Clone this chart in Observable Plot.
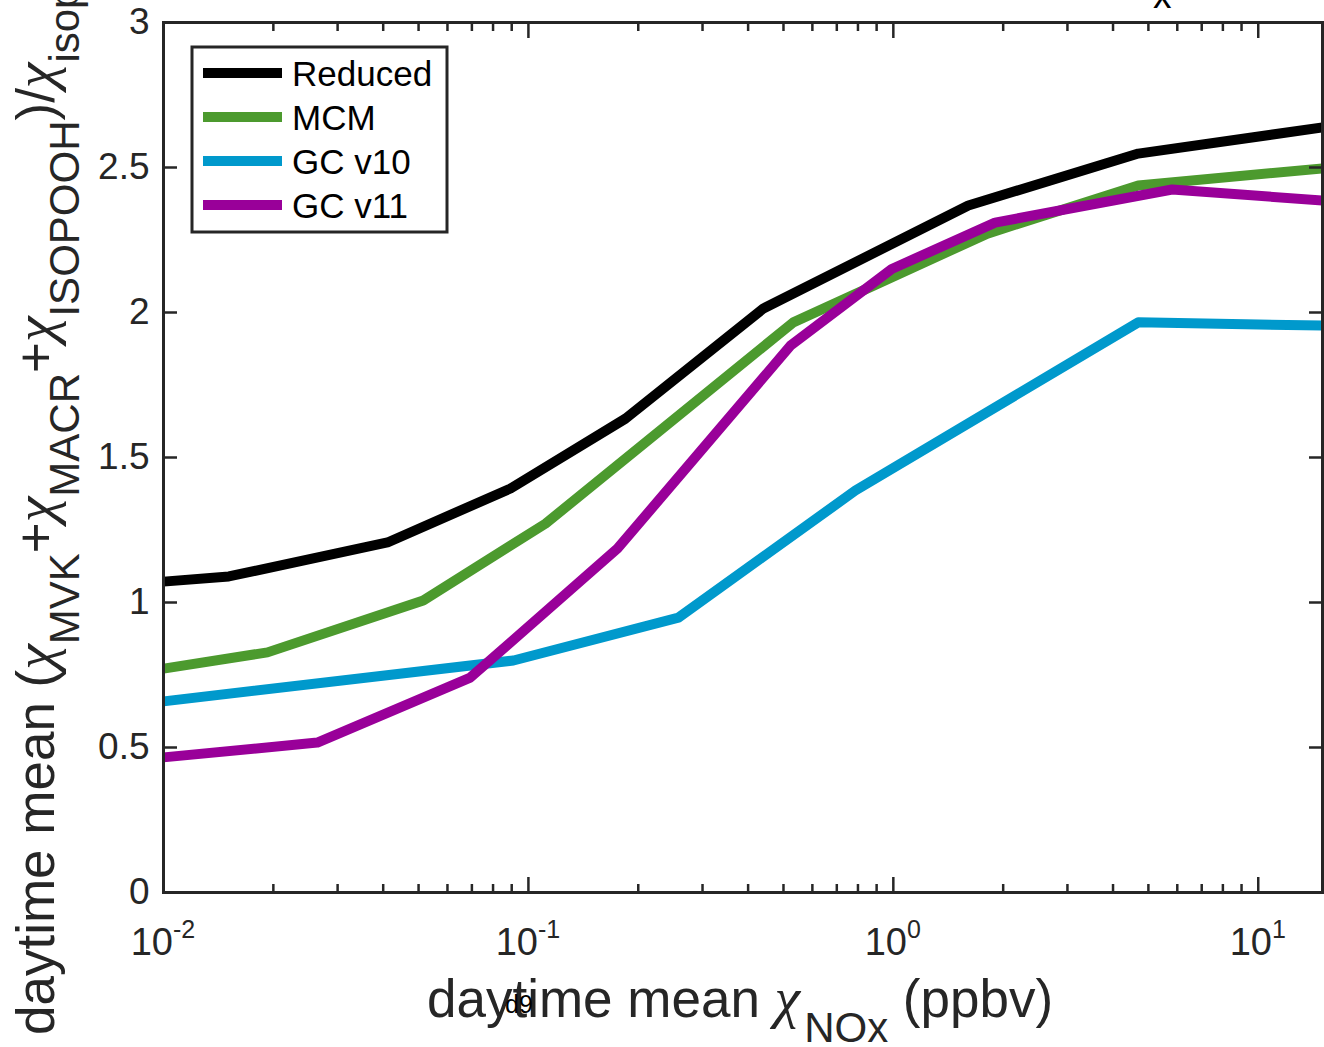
<!DOCTYPE html>
<html>
<head>
<meta charset="utf-8">
<script src="https://cdn.jsdelivr.net/npm/d3@7"></script>
<script src="https://cdn.jsdelivr.net/npm/@observablehq/plot@0.6"></script>
<style>
  body { margin: 0; background: #fff; }
  #chart { width: 1324px; height: 1047px; overflow: hidden; }
</style>
</head>
<body>
<div id="chart"></div>
<script>
// ---------------- data ----------------
const seriesNames = ["Reduced", "MCM", "GC v10", "GC v11"];
const seriesColors = ["#000000", "#4c9a2e", "#0099cc", "#990099"];

const xReduced = [0.01, 0.0151, 0.0411, 0.0893, 0.1845, 0.4406, 1.605, 4.69, 15];
const yReduced = [1.072, 1.09, 1.207, 1.393, 1.634, 2.014, 2.369, 2.548, 2.638];

const xMCM = [0.01, 0.01927, 0.0515, 0.1114, 0.532, 1.81, 4.69, 15];
const yMCM = [0.772, 0.828, 1.007, 1.272, 1.966, 2.272, 2.438, 2.497];

const xGC10 = [0.01, 0.091, 0.2577, 0.787, 4.69, 15];
const yGC10 = [0.659, 0.80, 0.948, 1.386, 1.966, 1.955];

const xGC11 = [0.01, 0.0264, 0.0693, 0.1754, 0.523, 0.99, 1.90, 5.81, 15];
const yGC11 = [0.466, 0.517, 0.741, 1.186, 1.886, 2.15, 2.31, 2.424, 2.386];

const yTicks = [0, 0.5, 1, 1.5, 2, 2.5, 3];
const xMajorTicks = [0.01, 0.1, 1, 10];
const xTickExponents = ["-2", "-1", "0", "1"];
const xMinorTicks = [0.02,0.03,0.04,0.05,0.06,0.07,0.08,0.09,
                     0.2,0.3,0.4,0.5,0.6,0.7,0.8,0.9,
                     2,3,4,5,6,7,8,9];

// ---------------- build table ----------------
const seriesX = [xReduced, xMCM, xGC10, xGC11];
const seriesY = [yReduced, yMCM, yGC10, yGC11];
const rows = [];
seriesNames.forEach((name, i) => {
  seriesX[i].forEach((x, j) => rows.push({series: name, x, y: seriesY[i][j]}));
});

const axisColor = "#262626";
const W = 1324, H = 1047, mL = 163, mR = 2, mT = 22, mB = 155;
const sans = "'Liberation Sans', Arial, Helvetica, sans-serif";
const serif = "'Liberation Serif', 'Times New Roman', serif";

const noText = () => "";
const plot = Plot.plot({
  width: W, height: H,
  marginLeft: mL, marginRight: mR, marginTop: mT, marginBottom: mB,
  style: {background: "#fff", fontFamily: sans, overflow: "hidden"},
  x: {type: "log", domain: [0.01, 15], label: null},
  y: {domain: [0, 3], label: null},
  color: {domain: seriesNames, range: seriesColors},
  marks: [
    Plot.line(rows, {x: "x", y: "y", z: "series", stroke: "series",
      strokeWidth: 10, strokeLinejoin: "round", strokeLinecap: "butt", clip: true}),
    Plot.axisX({anchor: "bottom", ticks: xMajorTicks, tickSize: -15, tickFormat: noText, stroke: axisColor, strokeWidth: 2.5, label: null}),
    Plot.axisX({anchor: "bottom", ticks: xMinorTicks, tickSize: -8, tickFormat: noText, stroke: axisColor, strokeWidth: 2.5, label: null}),
    Plot.axisX({anchor: "top", ticks: xMajorTicks, tickSize: -15, tickFormat: noText, stroke: axisColor, strokeWidth: 2.5, label: null}),
    Plot.axisX({anchor: "top", ticks: xMinorTicks, tickSize: -8, tickFormat: noText, stroke: axisColor, strokeWidth: 2.5, label: null}),
    Plot.axisY({anchor: "left", ticks: yTicks, tickSize: -14, tickFormat: noText, stroke: axisColor, strokeWidth: 2.5, label: null}),
    Plot.axisY({anchor: "right", ticks: yTicks, tickSize: -14, tickFormat: noText, stroke: axisColor, strokeWidth: 2.5, label: null}),
    Plot.axisY({anchor: "left", ticks: yTicks, tickSize: 0, tickPadding: 14, fontSize: 37,
      tickFormat: d => String(d), fill: axisColor, stroke: "none", label: null}),
    Plot.frame({stroke: axisColor, strokeWidth: 3})
  ]
});

document.getElementById("chart").appendChild(plot);

// ---------------- extra text via scales ----------------
const svg = d3.select(plot);
const xs = plot.scale("x");
const bottom = H - mB;

// x tick labels with superscripts
const xl = svg.append("g").attr("font-family", sans).attr("fill", axisColor);
xMajorTicks.forEach((v, i) => {
  const t = xl.append("text")
    .attr("x", xs.apply(v)).attr("y", bottom + 63)
    .attr("text-anchor", "middle").attr("font-size", 38);
  t.append("tspan").text("10");
  t.append("tspan").attr("font-size", 25).attr("dy", -17).text(xTickExponents[i]);
});

// x axis label
const mainFs = 53, subFs = 42, chiFs = 58, sub = 25;
const xlab = svg.append("text").attr("x", 427).attr("y", bottom + 125)
  .attr("text-anchor", "start")
  .attr("font-family", sans).attr("font-size", mainFs).attr("fill", axisColor);
xlab.append("tspan").text("daytime mean ");
xlab.append("tspan").attr("font-family", serif).attr("font-style", "italic").attr("font-size", chiFs).text("χ");
xlab.append("tspan").attr("font-size", subFs).attr("dx", 4).attr("dy", sub).text("NOx");
xlab.append("tspan").attr("dy", -sub).text(" (ppbv)");

// stray small label
svg.append("text").attr("x", 505).attr("y", bottom + 121).attr("text-anchor", "start")
  .attr("font-family", sans).attr("font-size", 25).attr("fill", "#000").text("d9");

// clipped title fragment at top
svg.append("text").attr("x", 1153).attr("y", 8).attr("text-anchor", "start")
  .attr("font-family", sans).attr("font-size", 37).attr("fill", "#000").text("x");

// y axis label (rotated)
const ylab = svg.append("text").attr("transform", "translate(54,1035) rotate(-90)")
  .attr("text-anchor", "start")
  .attr("font-family", sans).attr("font-size", mainFs).attr("fill", axisColor);
const chi = () => ylab.append("tspan").attr("font-family", serif).attr("font-style", "italic").attr("font-size", chiFs).text("χ");
ylab.append("tspan").text("daytime mean (");
chi();
ylab.append("tspan").attr("font-size", subFs).attr("dy", sub).text("MVK");
ylab.append("tspan").attr("dy", -sub).text("+");
chi();
ylab.append("tspan").attr("font-size", subFs).attr("dy", sub).text("MACR");
ylab.append("tspan").attr("dy", -sub).text("+");
chi();
ylab.append("tspan").attr("font-size", subFs).attr("dy", sub).text("ISOPOOH");
ylab.append("tspan").attr("dy", -sub).text(")/");
chi();
ylab.append("tspan").attr("font-size", subFs).attr("dy", sub).text("isoprene");

// legend
const lg = svg.append("g");
lg.append("rect").attr("x", 192).attr("y", 47).attr("width", 255).attr("height", 185)
  .attr("fill", "#fff").attr("stroke", axisColor).attr("stroke-width", 3);
seriesNames.forEach((name, i) => {
  const yy = 73 + i * 44;
  lg.append("line").attr("x1", 203).attr("x2", 282).attr("y1", yy).attr("y2", yy)
    .attr("stroke", seriesColors[i]).attr("stroke-width", 10);
  lg.append("text").attr("x", 292).attr("y", yy).attr("dy", "0.36em").attr("text-anchor", "start")
    .attr("font-family", sans).attr("font-size", 35).attr("fill", "#000").text(name);
});
</script>
</body>
</html>
